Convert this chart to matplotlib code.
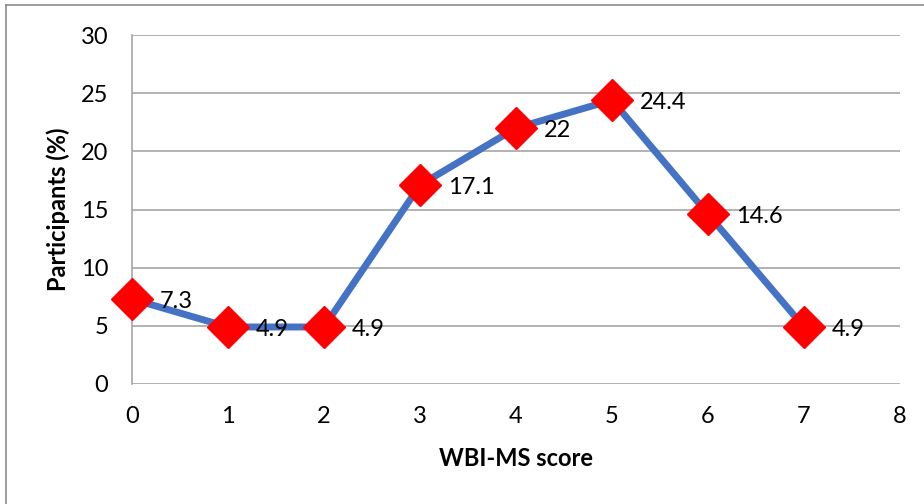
import matplotlib
matplotlib.use("Agg")
import matplotlib.pyplot as plt
from matplotlib.lines import Line2D

scores = [0, 1, 2, 3, 4, 5, 6, 7]
participants_pct = [7.3, 4.9, 4.9, 17.1, 22, 24.4, 14.6, 4.9]
value_labels = ["7.3", "4.9", "4.9", "17.1", "22", "24.4", "14.6", "4.9"]
x_ticks = [0, 1, 2, 3, 4, 5, 6, 7, 8]
y_ticks = [0, 5, 10, 15, 20, 25, 30]

plt.rcParams["font.family"] = ["Lato", "DejaVu Sans"]

W, H = 924, 504
fig = plt.figure(figsize=(W / 100, H / 100), dpi=100)
ax = fig.add_axes([132 / W, 1 - 384 / H, (900 - 132) / W, (384 - 35) / H])

fs = 17
grid_color = "#A6A6A6"
ax.set_xlim(0, 8)
ax.set_ylim(0, 30)
ax.set_xticks(x_ticks)
ax.set_yticks(y_ticks)
ax.yaxis.grid(True, color=grid_color, linewidth=1.2)
ax.set_axisbelow(True)
for side in ("top", "right", "bottom"):
    ax.spines[side].set_visible(False)
ax.spines["left"].set_color(grid_color)
ax.spines["left"].set_linewidth(1.2)
ax.tick_params(axis="both", length=0, labelsize=fs, colors="black")
ax.tick_params(axis="y", pad=17)
ax.tick_params(axis="x", pad=16)

ax.plot(scores, participants_pct, color="#4472C4", linewidth=5,
        marker="D", markersize=21, markerfacecolor="#FF0000",
        markeredgecolor="#FF0000", clip_on=False, zorder=3,
        solid_joinstyle="round")

for x, y, txt in zip(scores, participants_pct, value_labels):
    ax.annotate(txt, (x, y), xytext=(20, -2), textcoords="offset points",
                ha="left", va="center", fontsize=fs, color="black", zorder=4)

ax.set_xlabel("WBI-MS score", fontsize=fs, fontweight="bold", labelpad=14)
ax.set_ylabel("Participants (%)", fontsize=fs, fontweight="bold", labelpad=8)

# frame lines along the top and left edge of the figure
fig.add_artist(Line2D([6 / W, 1], [1 - 5 / H, 1 - 5 / H], color="#8C8C8C",
                      linewidth=1.2, transform=fig.transFigure))
fig.add_artist(Line2D([6 / W, 6 / W], [0, 1 - 5 / H], color="#8C8C8C",
                      linewidth=1.2, transform=fig.transFigure))

fig.savefig("out.png", dpi=100)
